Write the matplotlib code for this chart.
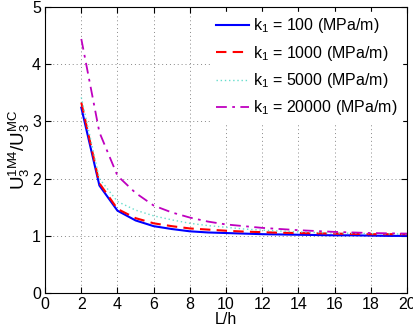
import matplotlib
matplotlib.use("Agg")
import matplotlib.pyplot as plt

plt.rcParams['font.family'] = ['Liberation Sans', 'DejaVu Sans']
plt.rcParams['mathtext.fontset'] = 'custom'
plt.rcParams['mathtext.rm'] = 'Liberation Sans'
plt.rcParams['mathtext.it'] = 'Liberation Sans'

x = [2, 3, 4, 5, 6, 7, 8, 9, 10, 11, 12, 13, 14, 15, 16, 17, 18, 19, 20]
k100 = [3.24, 1.88, 1.44, 1.27, 1.17, 1.12, 1.08, 1.06, 1.05, 1.04, 1.03, 1.025, 1.02, 1.015, 1.01, 1.01, 1.005, 1.0, 1.0]
k1000 = [3.33, 1.92, 1.47, 1.31, 1.22, 1.17, 1.13, 1.11, 1.09, 1.075, 1.065, 1.055, 1.05, 1.045, 1.04, 1.035, 1.03, 1.03, 1.03]
k5000 = [3.42, 2.0, 1.6, 1.45, 1.35, 1.28, 1.22, 1.18, 1.15, 1.12, 1.10, 1.085, 1.07, 1.06, 1.05, 1.045, 1.04, 1.035, 1.03]
k20000 = [4.44, 2.81, 2.05, 1.75, 1.53, 1.41, 1.32, 1.25, 1.2, 1.17, 1.14, 1.12, 1.1, 1.085, 1.07, 1.06, 1.05, 1.045, 1.04]
labels = ['k$_1$ = 100 (MPa/m)', 'k$_1$ = 1000 (MPa/m)', 'k$_1$ = 5000 (MPa/m)', 'k$_1$ = 20000 (MPa/m)']

fig = plt.figure(figsize=(4.14, 3.29), dpi=100)
ax = fig.add_axes([0.109, 0.109, 0.874, 0.870])

ax.plot(x, k100, color='#0000ff', linestyle='-', linewidth=1.5, label=labels[0])
ax.plot(x, k1000, color='#ff0000', linestyle=(0, (5, 3)), linewidth=1.5, label=labels[1])
ax.plot(x, k5000, color='#66ddcc', linestyle=(0, (1, 2)), linewidth=1.0, label=labels[2])
ax.plot(x, k20000, color='#bf00bf', linestyle=(0, (6, 3, 1.5, 3)), linewidth=1.3, label=labels[3])

ax.set_xlim(0, 20)
ax.set_ylim(0, 5)
ax.set_xticks(range(0, 21, 2))
ax.set_yticks(range(0, 6))
ax.grid(True, linestyle=(0, (1, 3)), color='#888888', linewidth=0.7)
ax.tick_params(direction='in', top=True, right=True, labelsize=11.5, length=4, pad=3)
for s in ax.spines.values():
    s.set_linewidth(0.8)

ax.set_xlabel('L/h', fontsize=11.5, labelpad=0)
ax.set_ylabel(r'U$_3^{1M4}$/U$_3^{MC}$', fontsize=13.5, labelpad=0)

leg = ax.legend(loc='upper right', fontsize=11.5, frameon=True, fancybox=False,
                edgecolor='white', framealpha=1.0, borderaxespad=0.3,
                handlelength=2.05, handletextpad=0.25, labelspacing=0.52,
                borderpad=0.3)

fig.savefig('out.png', dpi=100)
